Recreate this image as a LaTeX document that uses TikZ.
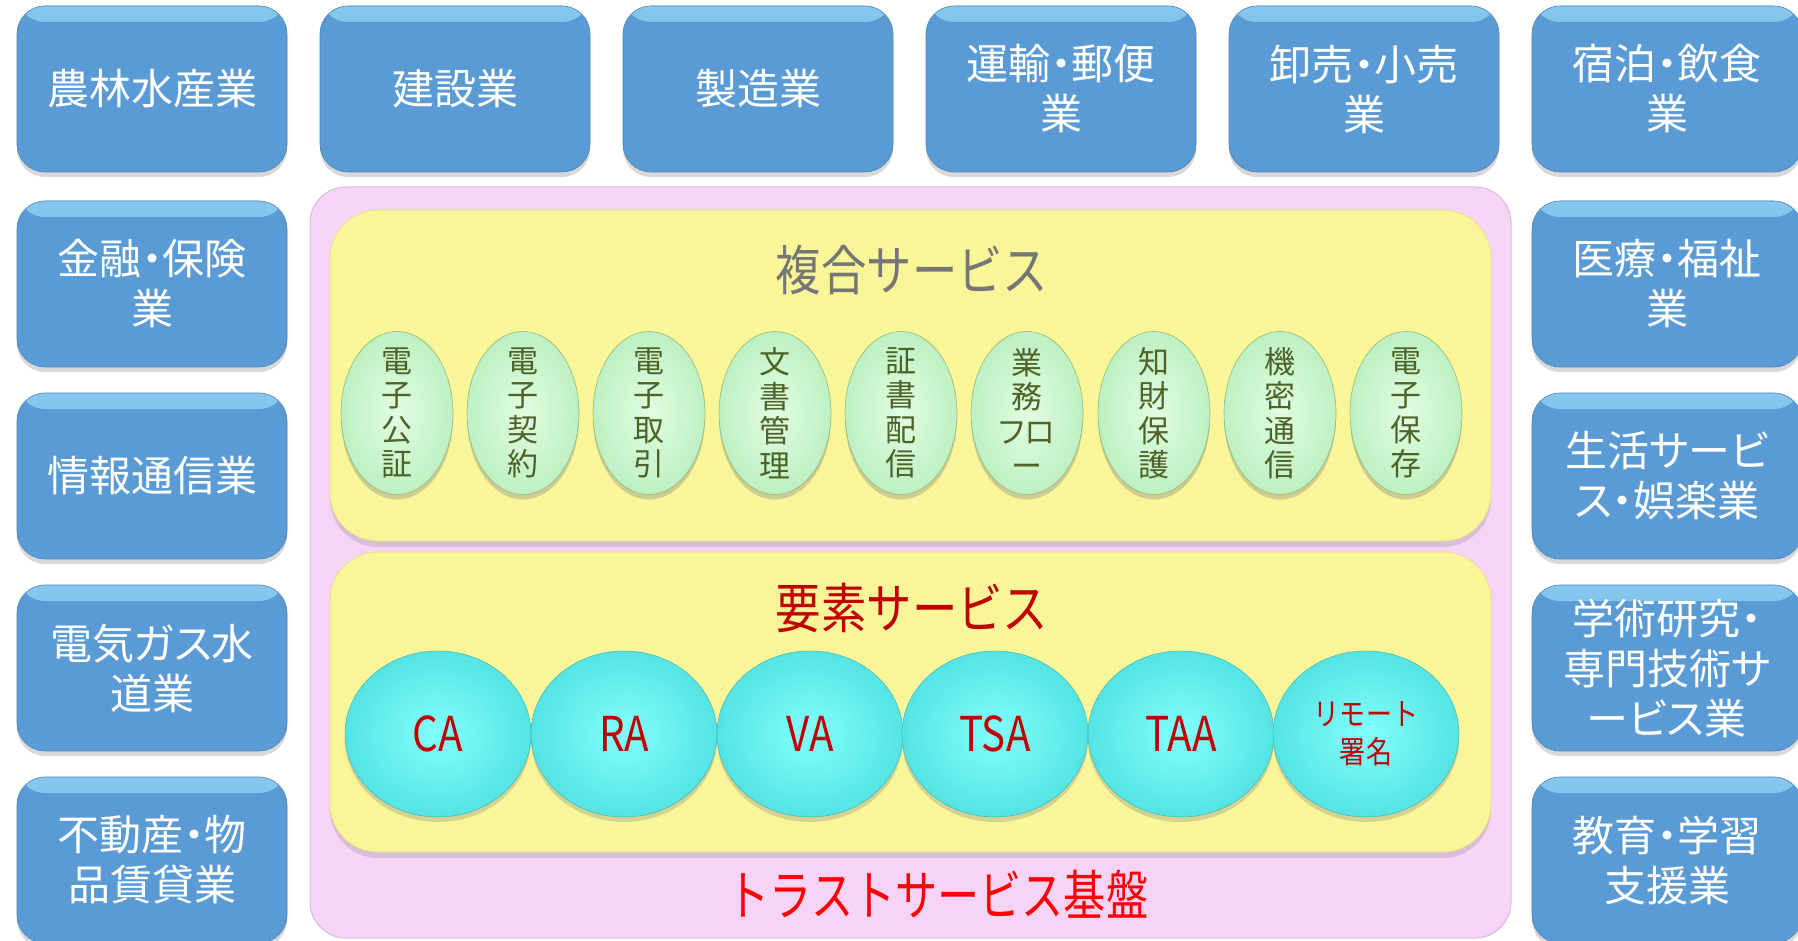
\documentclass[tikz,border=0pt]{standalone}
\usepackage{fontspec}
\newfontfamily\jpfont[RawFeature=+palt]{Noto Sans CJK JP}
\newfontfamily\jpnarrow[FakeStretch=0.84]{Noto Sans CJK JP}
\newfontfamily\jpthin[FakeStretch=0.78]{Noto Sans CJK JP}
\usetikzlibrary{shapes.geometric,shadows}

\definecolor{indblue}{RGB}{91,155,213}
\definecolor{indtop}{RGB}{135,200,238}
\definecolor{kiban}{RGB}{247,212,246}
\definecolor{kibanline}{RGB}{220,185,220}
\definecolor{layer}{RGB}{248,246,152}
\definecolor{layerline}{RGB}{230,226,140}
\definecolor{ovalgreen}{RGB}{190,240,195}
\definecolor{ovalgreenin}{RGB}{225,253,225}
\definecolor{ovalgreenline}{RGB}{150,185,120}
\definecolor{ovalgreentext}{RGB}{79,98,40}
\definecolor{ovalcyan}{RGB}{85,228,228}
\definecolor{ovalcyanin}{RGB}{130,255,252}
\definecolor{darkred}{RGB}{192,0,0}
\definecolor{titlegray}{RGB}{118,118,118}

\begin{document}
\begin{tikzpicture}[x=1pt,y=-1pt]
    \def\dx{303}
    \def\dy{192}
    \useasboundingbox[fill=white] (0,0) rectangle (1798,941);

    \tikzstyle{industry}=[rounded corners=28pt,minimum width=270pt,minimum height=166pt,fill=indblue,draw=indblue!85!black,line width=0.6pt,text=white,align=center,font=\jpfont\fontsize{42}{50}\selectfont,drop shadow={opacity=0.3,shadow xshift=0pt,shadow yshift=-5pt},path picture={\shade[top color=indtop,bottom color=indblue] (path picture bounding box.north west) rectangle ([yshift=-16pt]path picture bounding box.north east);}]
    \tikzstyle{base}=[rounded corners=36pt,minimum width=1201pt,minimum height=751pt,fill=kiban,draw=kibanline,line width=1pt]
    \tikzstyle{layerbox}=[rounded corners=48pt,minimum width=1161pt,fill=layer,draw=layerline,line width=0.8pt,drop shadow={opacity=0.25,shadow xshift=0pt,shadow yshift=-6pt}]
    \tikzstyle{fukugo}=[ellipse,minimum width=112pt,minimum height=163pt,inner sep=0pt,draw=ovalgreenline,line width=0.6pt,inner color=ovalgreenin,outer color=ovalgreen,drop shadow={opacity=0.35,shadow xshift=0pt,shadow yshift=-5pt}]
    \tikzstyle{fukugotext}=[text=ovalgreentext,align=center,font=\jpfont\fontsize{31}{34.5}\selectfont]
    \tikzstyle{youso}=[ellipse,minimum width=186pt,minimum height=166pt,inner sep=0pt,draw=ovalcyan!80!black,line width=0.5pt,inner color=ovalcyanin,outer color=ovalcyan,text=darkred,align=center,font=\jpnarrow\fontsize{48}{50}\selectfont,drop shadow={opacity=0.3,shadow xshift=0pt,shadow yshift=-5pt}]

    % industries, top row
    \node[industry] (nourin)    at (152+0*\dx,89) {農林水産業};
    \node[industry] (kensetsu)  at (152+1*\dx,89) {建設業};
    \node[industry] (seizou)    at (152+2*\dx,89) {製造業};
    \node[industry] (unyu)      at (152+3*\dx,89) {運輸・郵便\\業};
    \node[industry] (oroshi)    at (152+4*\dx,89) {卸売・小売\\業};
    \node[industry] (shukuhaku) at (152+5*\dx,89) {宿泊・飲食\\業};
    % industries, left column
    \node[industry] (kinyu)     at (152,284+0*\dy) {金融・保険\\業};
    \node[industry] (jouhou)    at (152,284+1*\dy) {情報通信業};
    \node[industry] (denki)     at (152,284+2*\dy) {電気ガス水\\道業};
    \node[industry] (fudousan)  at (152,284+3*\dy) {不動産・物\\品賃貸業};
    % industries, right column
    \node[industry] (iryou)     at (152+5*\dx,284+0*\dy) {医療・福祉\\業};
    \node[industry] (seikatsu)  at (152+5*\dx,284+1*\dy) {生活サービ\\ス・娯楽業};
    \node[industry] (gakujutsu) at (152+5*\dx,284+2*\dy) {学術研究・\\専門技術サ\\ービス業};
    \node[industry] (kyouiku)   at (152+5*\dx,284+3*\dy) {教育・学習\\支援業};

    % trust service base
    \node[base] (kiban) at (910.5,562.5) {};
    \node[layerbox,minimum height=331pt] (fukugou) at (910.5,375.5) {};
    \node[layerbox,minimum height=300pt] (yousobox) at (910.5,702) {};

    \node[text=titlegray,font=\jpnarrow\fontsize{54}{60}\selectfont] (fukugoutitle) at (912,270) {複合サービス};
    \node[text=darkred,font=\jpnarrow\fontsize{54}{60}\selectfont] (yousotitle) at (912,608) {要素サービス};
    \node[text=red,font=\jpthin\fontsize{54}{60}\selectfont] (kibantitle) at (938,894) {トラストサービス基盤};

    % composite services
    \node[fukugo] (g1) at (397,413) {};
    \node[fukugo] (g2) at (523,413) {};
    \node[fukugo] (g3) at (649,413) {};
    \node[fukugo] (g4) at (775,413) {};
    \node[fukugo] (g5) at (901,413) {};
    \node[fukugo] (g6) at (1027,413) {};
    \node[fukugo] (g7) at (1154,413) {};
    \node[fukugo] (g8) at (1280,413) {};
    \node[fukugo] (g9) at (1406,413) {};
    \node[fukugotext] (g1t) at (g1) {電\\子\\公\\証};
    \node[fukugotext] (g2t) at (g2) {電\\子\\契\\約};
    \node[fukugotext] (g3t) at (g3) {電\\子\\取\\引};
    \node[fukugotext] (g4t) at (g4) {文\\書\\管\\理};
    \node[fukugotext] (g5t) at (g5) {証\\書\\配\\信};
    \node[fukugotext] (g6t) at (g6) {業\\務\\フロ\\ー};
    \node[fukugotext] (g7t) at (g7) {知\\財\\保\\護};
    \node[fukugotext] (g8t) at (g8) {機\\密\\通\\信};
    \node[fukugotext] (g9t) at (g9) {電\\子\\保\\存};

    % element services
    \node[youso] (ca)  at (438,734) {CA};
    \node[youso] (ra)  at (624,734) {RA};
    \node[youso] (va)  at (810,734) {VA};
    \node[youso] (tsa) at (995,734) {TSA};
    \node[youso] (taa) at (1181,734) {TAA};
    \node[youso,font=\jpnarrow\fontsize{31}{38}\selectfont] (remote) at (1366,734) {リモート\\署名};

\end{tikzpicture}
\end{document}
